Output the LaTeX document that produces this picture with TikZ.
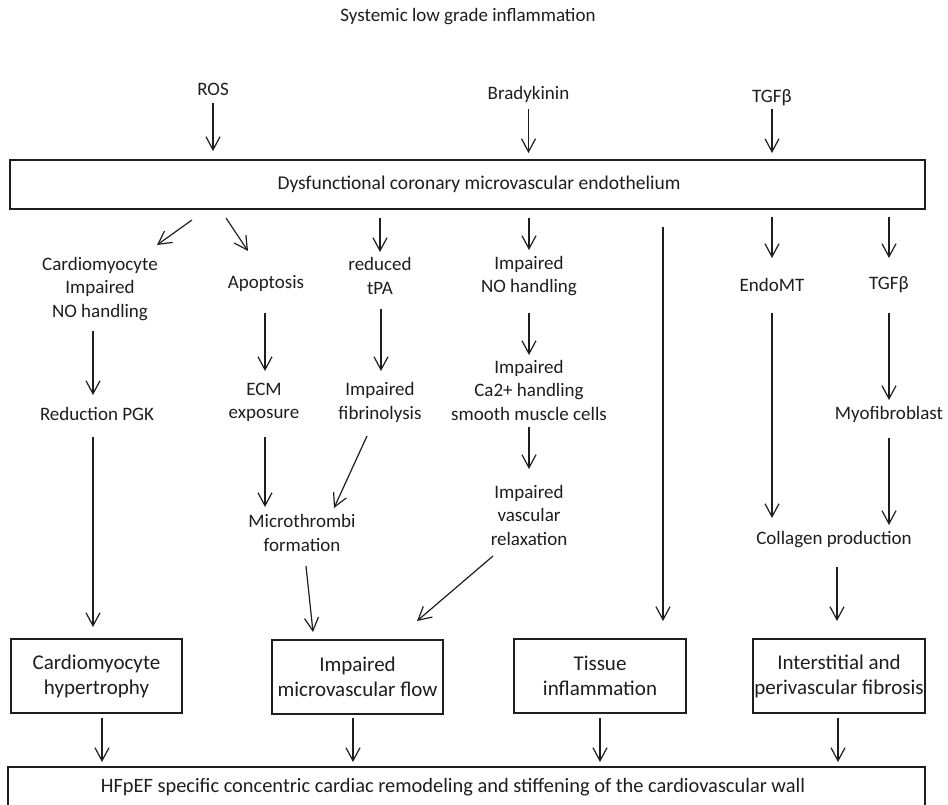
\documentclass[tikz,border=0pt]{standalone}
\usepackage{fontspec}
\setmainfont{Carlito}
\usetikzlibrary{arrows.meta}
\definecolor{ink}{HTML}{1E1E1E}
\tikzset{
  txt/.style={font=\fontsize{19}{23.5}\selectfont, align=center, inner sep=0pt, text=ink},
  bigbox/.style={draw=ink, line width=1.6pt, inner sep=0pt, text=ink},
  effbox/.style={draw=ink, line width=1.6pt, inner sep=0pt, minimum height=74pt, align=center, font=\fontsize{21}{25}\selectfont, text=ink},
  arr/.style={draw=ink, line width=1.2pt, -{Straight Barb[length=13pt,width=14pt,line width=1.2pt]}},
}
% vertical link, x taken from #1 (plus #3)
\newcommand\vlinkA[5]{\draw[arr] ([shift={(#3,#4)}]#1.center) -- ([shift={(#3,#5)}]#1.center |- #2.center);}
% vertical link, x taken from #2 (plus #3)
\newcommand\vlinkB[5]{\draw[arr] ([shift={(#3,#4)}]#2.center |- #1.center) -- ([shift={(#3,#5)}]#2.center);}
\begin{document}
\begin{tikzpicture}[x=1pt,y=-1pt]
\useasboundingbox (0,0) rectangle (948,804);
\clip (0,0) rectangle (948,804);
\fill[white] (0,0) rectangle (948,804);

\node[txt] (title) at (468,17) {Systemic low grade inflammation};
\node[txt] (ros) at (213,89) {ROS};
\node[txt] (brady) at (528.5,94) {Bradykinin};
\node[txt] (tgfa) at (772,98) {TGFβ};

\node[bigbox, font=\fontsize{19.5}{23.5}\selectfont, minimum width=915pt, minimum height=49pt] (endo) at (467.5,184.5)
  {\hspace*{23pt}Dysfunctional coronary microvascular endothelium};

\node[txt] (cnoh) at (100,289) {Cardiomyocyte\\Impaired\\NO handling};
\node[txt] (apo) at (266,283) {Apoptosis};
\node[txt] (tpa) at (380,276) {reduced\\tPA};
\node[txt] (noh) at (529,276) {Impaired\\NO handling};
\node[txt] (endomt) at (772,285) {EndoMT};
\node[txt] (tgfb) at (889,285) {TGFβ};

\node[txt] (pgk) at (97,414) {Reduction PGK};
\node[txt] (ecm) at (264,402.5) {ECM\\exposure};
\node[txt] (fib) at (380,402.5) {Impaired\\fibrinolysis};
\node[txt] (ca) at (529,390) {Impaired\\Ca2+ handling\\smooth muscle cells};
\node[txt] (myo) at (889,414) {Myofibroblast};

\node[txt] (micro) at (302,533) {Microthrombi\\formation};
\node[txt] (relax) at (529,515) {Impaired\\vascular\\relaxation};
\node[txt] (coll) at (834,540) {Collagen production};

\node[effbox, minimum width=171pt] (hyp) at (96.5,676) {Cardiomyocyte\\hypertrophy};
\node[effbox, minimum width=171pt] (flow) at (357.5,677) {Impaired\\microvascular flow};
\node[effbox, minimum width=172pt] (tissue) at (600,676) {Tissue\\inflammation};
\node[effbox, minimum width=172pt] (fibro) at (839,676) {Interstitial and\\perivascular fibrosis};

\node[bigbox, font=\fontsize{20.4}{24}\selectfont, minimum width=917pt, minimum height=40pt] (remod) at (466.5,787)
  {HFpEF specific concentric cardiac remodeling and stiffening of the cardiovascular wall\hspace*{27pt}};

% inputs to endothelium
\vlinkA{ros}{endo}{0}{14}{-33.5}
\vlinkA{brady}{endo}{0}{15}{-31.5}
\vlinkA{tgfa}{endo}{0}{11}{-31.5}

% from endothelium
\draw[arr] ([shift={(-275.5,35.5)}]endo.center) -- ([shift={(57,-44)}]cnoh.center);
\draw[arr] ([shift={(-241.5,33.5)}]endo.center) -- ([shift={(-18,-32)}]apo.center);
\vlinkB{endo}{tpa}{0}{33.5}{-24}
\vlinkB{endo}{noh}{0}{33.5}{-26}
\vlinkB{endo}{tissue}{63}{42.5}{-55}
\vlinkB{endo}{endomt}{0}{32.5}{-27}
\vlinkB{endo}{tgfb}{0}{32.5}{-27}

% second level
\vlinkA{cnoh}{pgk}{-7}{42}{-19}
\vlinkA{pgk}{hyp}{-4}{23}{-49}
\vlinkA{apo}{ecm}{-1}{30}{-31.5}
\vlinkA{tpa}{fib}{1}{33}{-31.5}
\vlinkA{noh}{ca}{0}{37}{-35}
\vlinkA{endomt}{coll}{0}{28}{-22}
\vlinkA{tgfb}{myo}{0}{28}{-14}

% third level
\vlinkA{ecm}{micro}{1}{34.5}{-26}
\draw[arr] ([shift={(-13,33.5)}]fib.center) -- ([shift={(32,-25)}]micro.center);
\vlinkA{ca}{relax}{0}{37}{-46}
\vlinkA{myo}{coll}{0}{24}{-15}

% to effect boxes
\draw[arr] ([shift={(4,33)}]micro.center) -- ([shift={(-44.5,-45)}]flow.center);
\draw[arr] ([shift={(-36,41)}]relax.center) -- ([shift={(59.5,-56)}]flow.center);
\vlinkA{coll}{fibro}{3}{27}{-55}

% to remodeling
\vlinkA{hyp}{remod}{5.5}{42}{-25}
\vlinkA{flow}{remod}{-4.5}{41}{-25}
\vlinkA{tissue}{remod}{0}{42}{-25}
\vlinkA{fibro}{remod}{-1}{42}{-25}
\end{tikzpicture}
\end{document}
